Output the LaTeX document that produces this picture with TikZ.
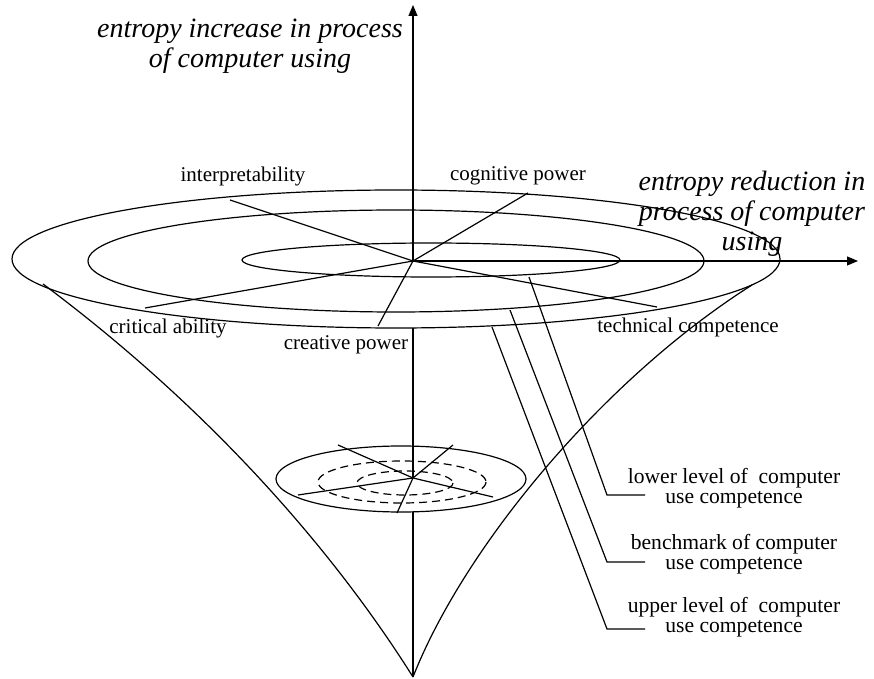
\documentclass[tikz,border=0pt]{standalone}
\usepackage{fontspec}
\setmainfont{Liberation Serif}
\usetikzlibrary{arrows.meta}
\tikzset{
  LabelStyle/.style = {text = black, inner sep=0pt, font = \fontsize{10.5}{10}\selectfont},
  LevelStyle/.style = {text = black, inner sep=0pt, align=center,
                       font = \fontsize{10.8}{10}\selectfont},
  TitleStyle/.style = {text = black, inner sep=0pt, align=center,
                       font = \fontsize{14}{15}\selectfont\itshape},
  RingStyle/.style  = {black, line width=0.6pt},
  HiddenStyle/.style = {black, line width=0.6pt, dash pattern=on 4pt off 2.5pt},
  AxisStyle/.style  = {black, line width=0.6pt, -{Triangle[width=4.5pt,length=5.5pt]}} }

\begin{document}
\begin{tikzpicture}[x=0.5pt, y=-0.5pt]
  \useasboundingbox (0,0) rectangle (874,679);
  % axes
  \coordinate (O) at (413,261);
  \coordinate (ytip) at (413,5);
  \coordinate (xtip) at (858,261);
  \coordinate (apex) at (413,677);
  \draw[AxisStyle] (O) -- (ytip);
  \draw[AxisStyle] (O) -- (xtip);
  % upper rings
  \draw[RingStyle] (396,259) ellipse [x radius=384, y radius=69];
  \draw[RingStyle] (396,261) ellipse [x radius=308, y radius=51];
  \draw[RingStyle] (431,260) ellipse [x radius=189, y radius=17];
  % funnel
  \coordinate (funL) at (43,284);
  \coordinate (funR) at (752,285);
  \draw[RingStyle] (funL) .. controls (205,405) and (330,545) .. (apex);
  \draw[RingStyle] (funR) .. controls (605,378) and (465,545) .. (apex);
  % competence directions
  \coordinate (dInt) at (230,200);
  \coordinate (dCog) at (528,193);
  \coordinate (dCri) at (145,308);
  \coordinate (dCre) at (378,326);
  \coordinate (dTec) at (657,307);
  \foreach \d in {dInt,dCog,dCri,dCre,dTec}
    \draw[RingStyle] (O) -- (\d);
  \node[LabelStyle] (interp) at (243,176) {interpretability};
  \node[LabelStyle] (cognit) at (518,176) {cognitive power};
  \node[LabelStyle] (critic) at (168,328) {critical ability};
  \node[LabelStyle] (creat)  at (346,345) {creative power};
  \node[LabelStyle] (techn)  at (688,327) {technical competence};
  % small ring
  \coordinate (sC) at (413,478);
  \coordinate (rimB) at (413,328);
  \coordinate (sB) at (413,512);
  \draw[RingStyle] (rimB) -- (sC);
  \draw[RingStyle] (sB) -- (apex);
  \draw[RingStyle] (401,479) ellipse [x radius=125, y radius=33];
  \draw[HiddenStyle] (402,482) ellipse [x radius=84, y radius=21];
  \draw[HiddenStyle] (405,483) ellipse [x radius=48, y radius=12];
  \foreach \p in {(338,445),(453,445),(298,495),(397,513),(493,497)}
    \draw[RingStyle] (sC) -- \p;
  % levels
  \node[LevelStyle] (lower) at (734,488) {lower level of~ computer\\use competence};
  \node[LevelStyle] (bench) at (734,554) {benchmark of computer\\use competence};
  \node[LevelStyle] (upper) at (734,617) {upper level of~ computer\\use competence};
  \coordinate (lowS) at (529,277);
  \coordinate (benS) at (510,310);
  \coordinate (uppS) at (492,327);
  \draw[RingStyle] (lowS) -- (607,495) -- (645,495);
  \draw[RingStyle] (benS) -- (607,562) -- (645,562);
  \draw[RingStyle] (uppS) -- (607,629) -- (645,629);
  % axis titles
  \node[TitleStyle] (incr) at (250,46) {entropy increase in process\\of computer using};
  \node[TitleStyle] (redu) at (752,214) {entropy reduction in\\process of computer\\using};
\end{tikzpicture}
\end{document}
